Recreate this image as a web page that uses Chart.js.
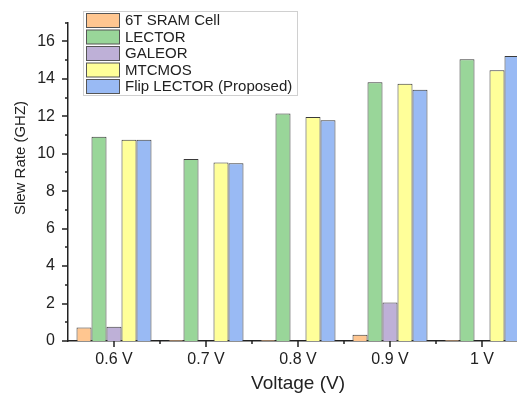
<!DOCTYPE html>
<html>
<head>
<meta charset="utf-8">
<script src="https://cdn.jsdelivr.net/npm/chart.js@4"></script>
<style>
  html, body { margin: 0; padding: 0; background: #fff; overflow: hidden; }
  #wrap { width: 517px; height: 395px; overflow: hidden; }
</style>
</head>
<body>
<div id="wrap"><canvas id="c" width="530" height="395"></canvas></div>
<script>
// Data
const voltages = ['0.6 V', '0.7 V', '0.8 V', '0.9 V', '1 V'];
const seriesNames = ['6T SRAM Cell', 'LECTOR', 'GALEOR', 'MTCMOS', 'Flip LECTOR (Proposed)'];
const sram6t = [0.72, 0.05, 0.05, 0.33, 0.05];
const lector = [10.9, 9.72, 12.14, 13.82, 15.04];
const galeor = [0.76, null, null, 2.06, null];
const mtcmos = [10.75, 9.53, 11.96, 13.74, 14.45];
const flipLector = [10.75, 9.49, 11.79, 13.41, 15.22];
const yTicks = [0, 2, 4, 6, 8, 10, 12, 14, 16];

const colors = ['#FFC690', '#99D699', '#BEB0D7', '#FFFF99', '#99BAF4'];
const textColor = '#222';
const FONT = '"Liberation Sans", Arial, sans-serif';

// axis ticks (major + minor) drawn from the scales
const axisTicks = {
    id: 'axisTicks',
    afterDraw(chart) {
        const ctx = chart.ctx;
        const x = chart.scales.x, y = chart.scales.y;
        const left = chart.chartArea.left, bottom = chart.chartArea.bottom;
        ctx.save();
        ctx.fillStyle = textColor;
        for (let v = 0; v <= 17; v++) {
            const py = Math.round(y.getPixelForValue(v));
            const len = yTicks.includes(v) ? 6 : 3;
            ctx.fillRect(left - len, py - 0.75, len, 1.5);
        }
        for (let i = 0; i < voltages.length; i++) {
            const px = Math.round(x.getPixelForValue(i));
            ctx.fillRect(px - 0.75, bottom, 1.5, 6);
            const pb = Math.round(x.getPixelForValue(i + 0.5));
            ctx.fillRect(pb - 0.75, bottom, 1.5, 3);
        }

        // y axis title
        ctx.font = '15px ' + FONT;
        ctx.textAlign = 'center';
        ctx.textBaseline = 'middle';
        ctx.translate(21, 158);
        ctx.rotate(-Math.PI / 2);
        ctx.fillText('Slew Rate (GHZ)', 0, 0);
        ctx.restore();
    }
};

// boxed legend in the upper left, over the plot
const boxLegend = {
    id: 'boxLegend',
    afterDraw(chart) {
        const ctx = chart.ctx;
        ctx.save();
        ctx.strokeStyle = '#d0d0d0';
        ctx.lineWidth = 1;
        ctx.fillStyle = '#fff';
        ctx.fillRect(83.5, 11.5, 214, 84);
        ctx.strokeRect(83.5, 11.5, 214, 84);
        ctx.font = '15px ' + FONT;
        ctx.textBaseline = 'middle';
        ctx.textAlign = 'left';
        chart.data.datasets.forEach((ds, i) => {
            const top = 13.5 + i * 16.5;
            ctx.fillStyle = ds.backgroundColor;
            ctx.fillRect(86.5, top, 33, 14);
            ctx.strokeStyle = '#555';
            ctx.strokeRect(86.5, top, 33, 14);
            ctx.fillStyle = textColor;
            ctx.fillText(ds.label, 125, top + 7.5);
        });
        ctx.restore();
    }
};

const seriesData = [sram6t, lector, galeor, mtcmos, flipLector];

new Chart(document.getElementById('c'), {
    type: 'bar',
    data: {
        labels: voltages,
        datasets: seriesNames.map((name, i) => ({
            label: name,
            data: seriesData[i],
            backgroundColor: colors[i],
            borderColor: '#3a3a3a',
            borderWidth: 1,
            categoryPercentage: 0.815,
            barPercentage: 1.0
        }))
    },
    options: {
        responsive: false,
        devicePixelRatio: 1,
        animation: false,
        layout: { padding: { top: 15, right: 2, left: 0, bottom: 0 } },
        plugins: {
            legend: { display: false },
            tooltip: { enabled: false }
        },
        scales: {
            x: {
                grid: { display: false, drawTicks: false },
                border: { display: true, color: textColor, width: 1.5 },
                ticks: { color: textColor, font: { size: 16, family: FONT }, padding: 9, maxRotation: 0 },
                title: { display: true, text: 'Voltage (V)', color: textColor, font: { size: 19, family: FONT }, padding: { top: 4, bottom: 0 } },
                afterFit(scale) { scale.height = 54; }
            },
            y: {
                min: 0,
                max: 17,
                grid: { display: false, drawTicks: false },
                border: { display: true, color: textColor, width: 1.5 },
                ticks: {
                    stepSize: 1,
                    color: textColor,
                    font: { size: 16, family: FONT },
                    padding: 13,
                    callback: v => yTicks.includes(v) ? v : ''
                },
                afterFit(scale) { scale.width = 68; }
            }
        }
    },
    plugins: [axisTicks, boxLegend]
});
</script>
</body>
</html>
